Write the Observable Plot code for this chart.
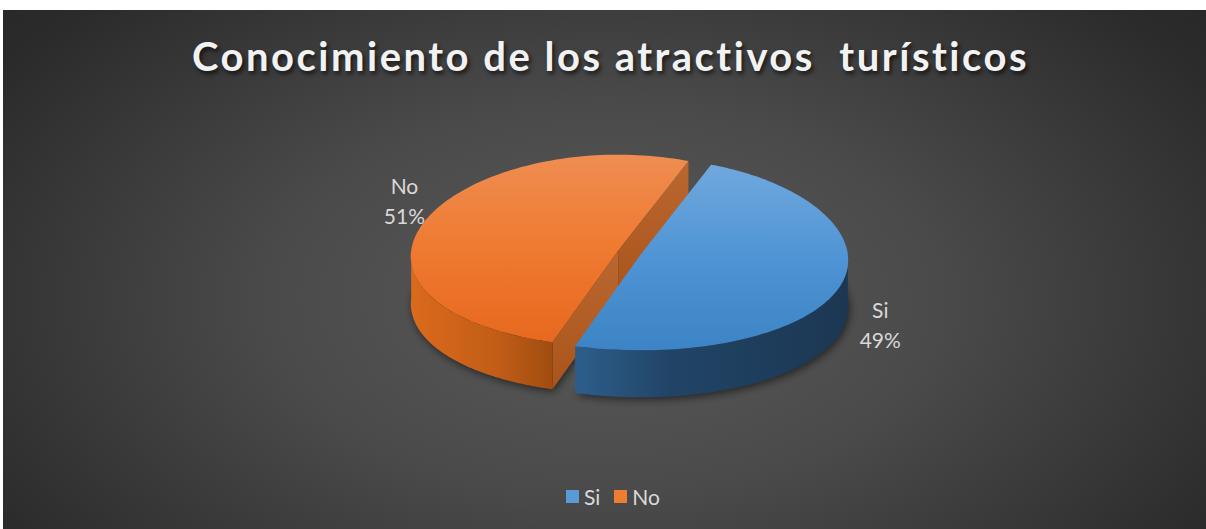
<!DOCTYPE html>
<html><head><meta charset="utf-8">
<script src="https://cdn.jsdelivr.net/npm/d3@7"></script>
<script src="https://cdn.jsdelivr.net/npm/@observablehq/plot@0.6"></script>
<style>
html,body{margin:0;padding:0;background:#fff;}
#chart{position:absolute;left:3px;top:10px;width:1203px;height:519px;overflow:hidden;
 background: radial-gradient(ellipse 70% 95% at 50% 56%, #5a5a5a 0%, #4a4a4a 40%, #2b2b2b 85%, #262626 100%);
 font-family: Lato, "Open Sans", sans-serif;}
#title{position:absolute;left:12px;right:0;top:22px;text-align:center;white-space:pre;
 color:#f2f2f2;font-family:Lato,"Open Sans",sans-serif;font-weight:bold;font-size:40px;letter-spacing:2.5px;
 text-shadow:2px 3px 4px rgba(0,0,0,0.65);}
#plot{position:absolute;left:0;top:90px;}
#legend{position:absolute;left:563px;top:474px;display:flex;align-items:center;color:#d9d9d9;font-size:21px;font-family:Lato,"Open Sans",sans-serif;}
#legend .sw{width:13px;height:13px;display:inline-block;margin-right:5px;}
#legend .it{display:flex;align-items:center;margin-right:14px;}
</style>
</head><body>
<div id="chart">
  <div id="title"></div>
  <div id="plot"></div>
  <div id="legend"></div>
</div>
<script>
const title = "Conocimiento de los atractivos  turísticos";
const categories = ["Si", "No"];
const values = [49, 51];
const percentLabels = ["49%", "51%"];
const colors = ["#5b9bd5", "#ed7d31"];

// layout (page pixel coordinates)
const firstSliceAngle = 21; // degrees, clockwise from 12 o'clock
const cx = 629, cy = 252, rx = 207, ry = 96, depth = 47, explode = 12, persp = 0.06;
const labelNudge = {Si: [40, 37], No: [-22, -20]};

document.getElementById("title").textContent = title;

const rad = Math.PI / 180;
const total = d3.sum(values);
let acc = firstSliceAngle * rad;
const slices = categories.map((c, i) => {
  const a0 = acc, a1 = acc + values[i] / total * 2 * Math.PI;
  acc = a1;
  const mid = (a0 + a1) / 2;
  return {cat: c, i, value: values[i], label: percentLabels[i], a0, a1, mid,
    ox: cx + Math.sin(mid) * explode, oy: cy - Math.cos(mid) * explode * ry / rx};
});
const pt = (s, a, dz = 0) => {
  const u = Math.sin(a), v = -Math.cos(a);
  const k = 1 / (1 - persp * v);
  return {x: s.ox + rx * u * k, y: s.oy + ry * v + dz};
};
function arc(s, a0, a1, dz = 0, n = 120) {
  return d3.range(n + 1).map(k => pt(s, a0 + (a1 - a0) * k / n, dz));
}
function topFace(s) { return [{x: s.ox, y: s.oy}, ...arc(s, s.a0, s.a1)]; }
function sideFace(s) {
  const lo = Math.PI / 2, hi = 3 * Math.PI / 2;
  let pts = [];
  for (const off of [0, 2 * Math.PI, -2 * Math.PI]) {
    const b0 = Math.max(s.a0, lo + off), b1 = Math.min(s.a1, hi + off);
    if (b1 > b0) pts = [...arc(s, b0, b1), ...arc(s, b0, b1, depth).reverse()];
  }
  return pts;
}
function radialFace(s, a) {
  const e = pt(s, a);
  return [{x: s.ox, y: s.oy}, e, {x: e.x, y: e.y + depth}, {x: s.ox, y: s.oy + depth}];
}
function bottomOutline(s) { return [{x: s.ox, y: s.oy + depth}, ...arc(s, s.a0, s.a1, depth)]; }

const si = slices[0], no = slices[1];

const defs = () => {
  const g = d3.create("svg:g");
  const d = g.append("defs");
  const lin = (id, x2, y2, stops) => {
    const lg = d.append("linearGradient").attr("id", id).attr("x1", 0).attr("y1", 0).attr("x2", x2).attr("y2", y2);
    stops.forEach(([o, c]) => lg.append("stop").attr("offset", o).attr("stop-color", c));
  };
  lin("gSiTop", 0, 1, [[0, "#70a8de"], [0.5, "#4f94d4"], [1, "#3c84c5"]]);
  lin("gNoTop", 0, 1, [[0, "#ef8d52"], [0.5, "#ef7a30"], [1, "#e6691e"]]);
  lin("gSiSide", 1, 0, [[0, "#2d5e8b"], [0.35, "#214466"], [1, "#1c3753"]]);
  lin("gNoSide", 1, 0, [[0, "#db6a1c"], [0.6, "#c25d17"], [1, "#a04d10"]]);
  lin("gNoRad", 0, 1, [[0, "#bb6731"], [1, "#a9541a"]]);
  const f = d.append("filter").attr("id", "blur").attr("x", "-20%").attr("y", "-20%").attr("width", "140%").attr("height", "140%");
  f.append("feGaussianBlur").attr("stdDeviation", 4);
  return g.node();
};

const shadow = (index, scales) => {
  const g = d3.create("svg:g").attr("filter", "url(#blur)");
  const line = d3.line().x(p => scales.x(p.x)).y(p => scales.y(p.y));
  for (const s of slices) {
    g.append("path").attr("d", line(bottomOutline(s).map(p => ({x: p.x + 2, y: p.y + 3})))).attr("fill", "rgba(0,0,0,0.55)");
  }
  return g.node();
};

const poly = (pts, fill) => Plot.line(pts, {x: "x", y: "y", fill, stroke: "none", curve: "linear"});

const labels = slices.map(s => {
  const p = pt(s, s.mid);
  const [dx, dy] = labelNudge[s.cat];
  return {x: p.x + dx, y: p.y + dy, text: `${s.cat}\n${s.label}`};
});

const plot = Plot.plot({
  width: 1203, height: 370,
  margin: 0,
  style: {background: "transparent", overflow: "visible"},
  x: {type: "linear", domain: [3, 1206], range: [0, 1203], axis: null},
  y: {type: "linear", domain: [100, 470], range: [0, 370], axis: null},
  marks: [
    defs,
    shadow,
    poly(radialFace(no, no.a0), "url(#gNoRad)"),
    poly(radialFace(no, no.a1), "url(#gNoRad)"),
    poly(sideFace(si), "url(#gSiSide)"),
    poly(sideFace(no), "url(#gNoSide)"),
    poly(topFace(no), "url(#gNoTop)"),
    poly(topFace(si), "url(#gSiTop)"),
    Plot.text(labels, {x: "x", y: "y", text: "text", fill: "#d9d9d9", fontSize: 21, lineHeight: 1.43, fontFamily: "Lato, 'Open Sans', sans-serif"})
  ]
});
document.getElementById("plot").appendChild(plot);

const lg = d3.select("#legend");
categories.forEach((c, i) => {
  const it = lg.append("div").attr("class", "it");
  it.append("span").attr("class", "sw").style("background", colors[i]);
  it.append("span").text(c);
});
</script>
</body></html>
